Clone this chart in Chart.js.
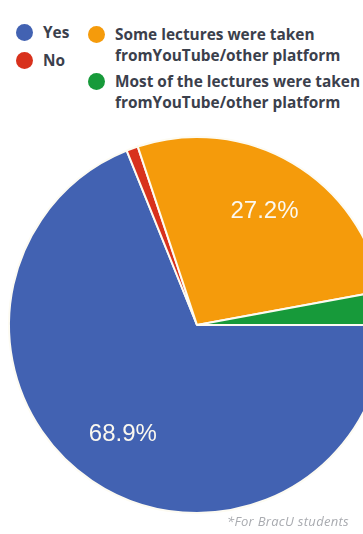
<!DOCTYPE html>
<html>

<head>
    <title>Lectures</title>
    <script src="https://cdn.jsdelivr.net/npm/chart.js@4/dist/chart.umd.min.js"></script>
    <style>
        body { margin: 0; width: 363px; height: 534px; overflow: hidden; position: relative; background: #fff; font-family: 'Open Sans', sans-serif; }
        #pie { position: absolute; left: 0; top: 136px; }
        .legend { position: absolute; top: 22px; left: 16px; display: flex; color: #3b404c; font-weight: 700; font-size: 15.4px; line-height: 21px; }
        .col1 { width: 72px; }
        .col2 { padding-top: 2px; }
        .item { display: flex; align-items: flex-start; white-space: nowrap; }
        .col1 .item { margin-bottom: 7px; }
        .col2 .item { margin-bottom: 5px; }
        .dot { width: 17px; height: 17px; border-radius: 50%; margin: 2px 10px 0 0; flex: none; }
        .note { position: absolute; left: 227px; top: 512px; font-size: 13px; letter-spacing: 0.3px; font-style: italic; color: #a9abb0; white-space: nowrap; }
    </style>
</head>

<body>
    <div class="legend">
        <div class="col1" id="col1"></div>
        <div class="col2" id="col2"></div>
    </div>
    <canvas id="pie" width="394" height="378"></canvas>
    <div class="note">*For BracU students</div>

    <script>
        // answers, in drawing order (clockwise from 3 o'clock)
        const categories = [
            ['Yes'],
            ['No'],
            ['Some lectures were taken', 'fromYouTube/other platform'],
            ['Most of the lectures were taken', 'fromYouTube/other platform']
        ];
        const shares = [68.9, 1.0, 27.2, 2.9];
        const colors = ['#4262b2', '#d8311c', '#f59b0b', '#179a3a'];

        // legend: short answers on the left, long ones on the right
        categories.forEach((lines, i) => {
            const item = document.createElement('div');
            item.className = 'item';
            const dot = document.createElement('span');
            dot.className = 'dot';
            dot.style.background = colors[i];
            const txt = document.createElement('div');
            txt.innerHTML = lines.join('<br>');
            item.appendChild(dot);
            item.appendChild(txt);
            document.getElementById(lines.length > 1 ? 'col2' : 'col1').appendChild(item);
        });

        // percentage text inside the bigger slices
        const sliceLabels = {
            id: 'sliceLabels',
            afterDatasetsDraw(chart) {
                const c = chart.ctx;
                const meta = chart.getDatasetMeta(0);
                c.save();
                c.font = '24px "Liberation Sans", Arial, sans-serif';
                c.fillStyle = '#fbf8ef';
                c.textAlign = 'center';
                c.textBaseline = 'middle';
                meta.data.forEach((arc, i) => {
                    const v = shares[i];
                    if (v < 5) return;
                    const a = (arc.startAngle + arc.endAngle) / 2;
                    const r = arc.outerRadius * 0.705;
                    c.fillText(v.toFixed(1) + '%', arc.x + Math.cos(a) * r, arc.y + Math.sin(a) * r);
                });
                c.restore();
            }
        };

        new Chart(document.getElementById('pie'), {
            type: 'pie',
            data: {
                labels: categories.map(l => l.join(' ')),
                datasets: [{
                    data: shares,
                    backgroundColor: colors,
                    borderColor: '#fdfbf2',
                    borderWidth: 2
                }]
            },
            options: {
                responsive: false,
                animation: false,
                rotation: 90,
                layout: { padding: 0 },
                plugins: {
                    legend: { display: false },
                    tooltip: { enabled: false }
                }
            },
            plugins: [sliceLabels]
        });
    </script>
</body>

</html>
